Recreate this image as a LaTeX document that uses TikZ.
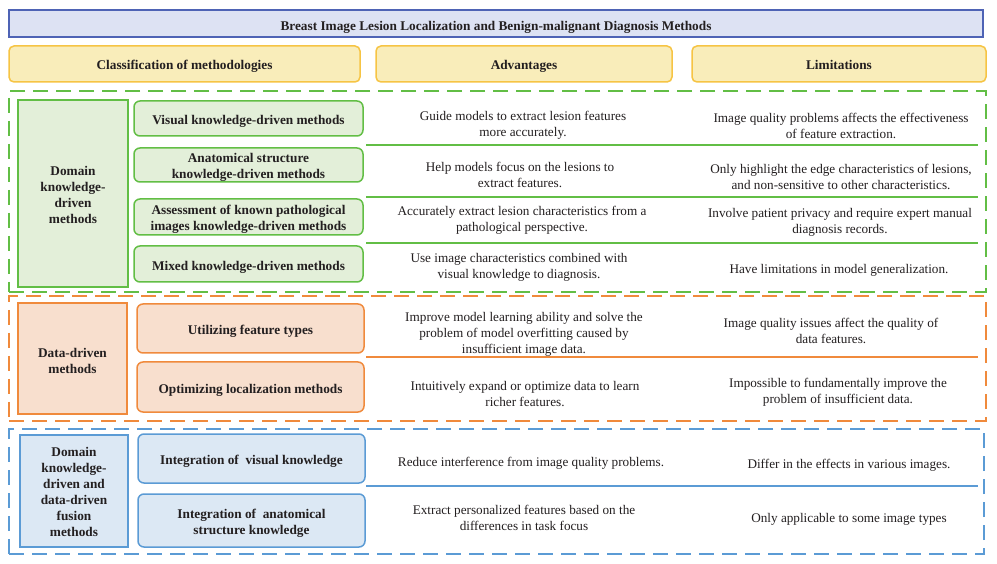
\documentclass[tikz,border=0pt]{standalone}
\usepackage{fontspec}
\setmainfont{Liberation Serif}
\definecolor{titlefill}{HTML}{DDE2F3}
\definecolor{titledraw}{HTML}{4E63B5}
\definecolor{headfill}{HTML}{F9EDBA}
\definecolor{headdraw}{HTML}{F6C444}
\definecolor{gline}{HTML}{62BE45}
\definecolor{gfill}{HTML}{E3EFD9}
\definecolor{oline}{HTML}{F08A3C}
\definecolor{ofill}{HTML}{F8DFCE}
\definecolor{bline}{HTML}{5B9BD5}
\definecolor{bfill}{HTML}{DCE8F4}
\definecolor{txt}{HTML}{231F20}
\tikzset{
  txtfont/.style={font=\fontsize{13.2}{16}\selectfont, text=txt},
  boldfont/.style={font=\fontsize{13.3}{16}\selectfont\bfseries, text=txt},
  btxt/.style={boldfont, align=center, inner sep=0pt},
  titlebox/.style={draw=titledraw, fill=titlefill, line width=1.5pt, inner sep=0pt},
  headbox/.style={draw=headdraw, fill=headfill, line width=1.5pt, rounded corners=5pt, inner sep=0pt},
  region/.style={dashed, dash pattern=on 15pt off 8pt, line width=2pt, inner sep=0pt},
  leftbox/.style={line width=1.5pt, inner sep=0pt},
  subbox/.style={line width=1.5pt, rounded corners=6pt, inner sep=0pt},
  sep/.style={line width=2pt},
  cell/.style={align=center, txtfont, inner sep=0pt},
}
\begin{document}
\begin{tikzpicture}[x=1pt,y=-1pt]
\useasboundingbox (0,0) rectangle (997,564);
\fill[white] (0,0) rectangle (997,564);

% title and headers
\node[titlebox, minimum width=974pt, minimum height=27pt, label={[btxt, yshift=-3.5pt]center:Breast Image Lesion Localization and Benign-malignant Diagnosis Methods}] (title) at (496,23.5) {};
\node[headbox, minimum width=351pt, minimum height=36pt, label={[btxt, yshift=-2.5pt]center:Classification of methodologies}] (hcls) at (184.5,64) {};
\node[headbox, minimum width=296pt, minimum height=36pt, label={[btxt, yshift=-2.5pt]center:Advantages}] (hadv) at (524,64) {};
\node[headbox, minimum width=294pt, minimum height=36pt, label={[btxt, yshift=-1.2pt]center:Limitations}] (hlim) at (839,64) {};

% regions
\node[region, draw=gline, minimum width=977pt, minimum height=201pt] (greg) at (497.5,191.5) {};
\node[region, draw=oline, minimum width=977pt, minimum height=125pt] (oreg) at (497.5,358.5) {};
\node[region, draw=bline, minimum width=975pt, minimum height=125pt] (breg) at (496.5,491.5) {};

% green block
\node[leftbox, draw=gline, fill=gfill, minimum width=110pt, minimum height=187pt, label={[btxt, yshift=-1pt]center:{Domain\\knowledge-\\driven\\methods}}] (gl) at (73,193.5) {};
\node[subbox, draw=gline, fill=gfill, minimum width=229pt, minimum height=35pt, label={[btxt, yshift=-3pt]center:{Visual knowledge-driven methods}}] (g1) at (248.5,118.5) {};
\node[subbox, draw=gline, fill=gfill, minimum width=229pt, minimum height=34pt, label={[btxt, yshift=-2.5pt]center:{Anatomical structure\\knowledge-driven methods}}] (g2) at (248.5,165) {};
\node[subbox, draw=gline, fill=gfill, minimum width=229pt, minimum height=36pt, label={[btxt, yshift=-2.5pt]center:{Assessment of known pathological\\images knowledge-driven methods}}] (g3) at (248.5,217) {};
\node[subbox, draw=gline, fill=gfill, minimum width=229pt, minimum height=36pt, label={[btxt, yshift=-3pt]center:{Mixed knowledge-driven methods}}] (g4) at (248.5,264) {};

\coordinate (gs1a) at (366,145); \coordinate (gs1b) at (978,145);
\coordinate (gs2a) at (366,197); \coordinate (gs2b) at (978,197);
\coordinate (gs3a) at (366,243); \coordinate (gs3b) at (978,243);
\draw[sep, gline] (gs1a) -- (gs1b);
\draw[sep, gline] (gs2a) -- (gs2b);
\draw[sep, gline] (gs3a) -- (gs3b);

\node[cell] (ga1) at (523,125) {Guide models to extract lesion features\\more accurately.};
\node[cell] (gm1) at (841,126) {Image quality problems affects the effectiveness\\of feature extraction.};
\node[cell] (ga2) at (520,175) {Help models focus on the lesions to\\extract features.};
\node[cell] (gm2) at (841,177) {Only highlight the edge characteristics of lesions,\\and non-sensitive to other characteristics.};
\node[cell] (ga3) at (522,220) {Accurately extract lesion characteristics from a\\pathological perspective.};
\node[cell] (gm3) at (840,222) {Involve patient privacy and require expert manual\\diagnosis records.};
\node[cell] (ga4) at (519,267) {Use image characteristics combined with\\visual knowledge to diagnosis.};
\node[cell] (gm4) at (839,270) {Have limitations in model generalization.};

% orange block
\node[leftbox, draw=oline, fill=ofill, minimum width=109pt, minimum height=111pt, label={[btxt, yshift=-2pt]center:{Data-driven\\methods}}] (ol) at (72.5,358.5) {};
\node[subbox, draw=oline, fill=ofill, minimum width=227pt, minimum height=49pt, label={[btxt, yshift=-3pt]center:{Utilizing feature types}}] (o1) at (250.5,328.5) {};
\node[subbox, draw=oline, fill=ofill, minimum width=227pt, minimum height=50pt, label={[btxt, yshift=-3pt]center:{Optimizing localization methods}}] (o2) at (250.5,387) {};

\coordinate (os1a) at (366,357); \coordinate (os1b) at (978,357);
\draw[sep, oline] (os1a) -- (os1b);

\node[cell] (oa1) at (524,334) {Improve model learning ability and solve the\\problem of model overfitting caused by\\insufficient image data.};
\node[cell] (om1) at (831,331) {Image quality issues affect the quality of\\data features.};
\node[cell] (oa2) at (525,394) {Intuitively expand or optimize data to learn\\richer features.};
\node[cell] (om2) at (838,392) {Impossible to fundamentally improve the\\problem of insufficient data.};

% blue block
\node[leftbox, draw=bline, fill=bfill, minimum width=108pt, minimum height=112pt, label={[btxt, yshift=-1pt]center:{Domain\\knowledge-\\driven and\\data-driven\\fusion\\methods}}] (bl) at (74,491) {};
\node[subbox, draw=bline, fill=bfill, minimum width=227pt, minimum height=49pt, label={[btxt, yshift=-3pt]center:{Integration of~ visual knowledge}}] (b1) at (251.5,458.5) {};
\node[subbox, draw=bline, fill=bfill, minimum width=227pt, minimum height=53pt, label={[btxt, yshift=-2.5pt]center:{Integration of~ anatomical\\structure knowledge}}] (b2) at (251.5,520.5) {};

\coordinate (bs1a) at (366,486); \coordinate (bs1b) at (978,486);
\draw[sep, bline] (bs1a) -- (bs1b);

\node[cell] (ba1) at (531,463) {Reduce interference from image quality problems.};
\node[cell] (bm1) at (849,465) {Differ in the effects in various images.};
\node[cell] (ba2) at (524,518) {Extract personalized features based on the\\differences in task focus};
\node[cell] (bm2) at (849,519) {Only applicable to some image types};
\end{tikzpicture}
\end{document}
